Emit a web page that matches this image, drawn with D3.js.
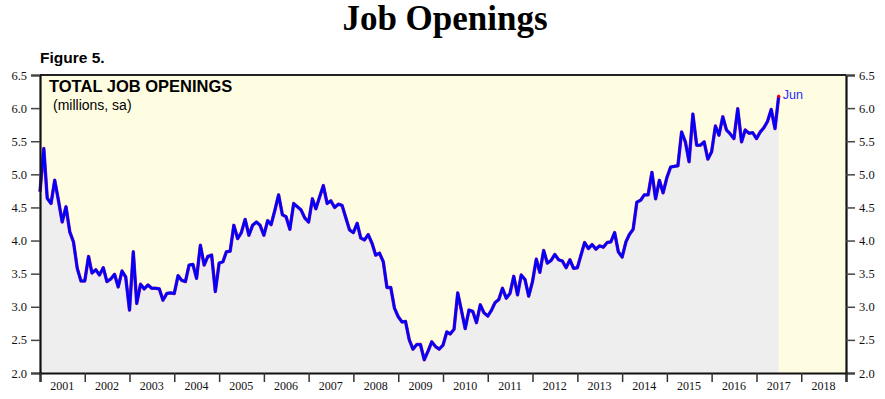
<!DOCTYPE html>
<html>
<head>
<meta charset="utf-8">
<script src="https://cdn.jsdelivr.net/npm/d3@7"></script>
<style>
  body { margin: 0; background: #fff; }
  svg { display: block; }
</style>
</head>
<body>
<script>
// monthly total job openings, millions sa, Dec 2000 .. Jun 2017
const startMonth = "2000-12";
const openings = [
  4.74,
  5.39, 4.64, 4.56, 4.91, 4.60, 4.28, 4.51, 4.13, 3.98, 3.58, 3.39, 3.39,
  3.76, 3.51, 3.56, 3.48, 3.59, 3.38, 3.42, 3.49, 3.30, 3.54, 3.45, 2.95,
  3.83, 3.05, 3.34, 3.27, 3.33, 3.28, 3.28, 3.27, 3.10, 3.20, 3.21, 3.20,
  3.47, 3.40, 3.38, 3.63, 3.64, 3.43, 3.93, 3.63, 3.76, 3.78, 3.23, 3.66,
  3.68, 3.83, 3.84, 4.23, 4.03, 4.12, 4.32, 4.08, 4.23, 4.28, 4.23, 4.08,
  4.30, 4.24, 4.46, 4.69, 4.39, 4.36, 4.17, 4.56, 4.51, 4.46, 4.34, 4.28,
  4.63, 4.48, 4.66, 4.83, 4.56, 4.60, 4.50, 4.55, 4.53, 4.34, 4.16, 4.12,
  4.26, 4.04, 4.01, 4.09, 3.96, 3.78, 3.81, 3.68, 3.29, 3.29, 2.98, 2.85,
  2.77, 2.78, 2.50, 2.36, 2.43, 2.43, 2.20, 2.33, 2.47, 2.40, 2.36, 2.42,
  2.62, 2.59, 2.66, 3.21, 2.94, 2.67, 2.95, 2.93, 2.76, 3.03, 2.91, 2.86,
  2.95, 3.06, 3.11, 3.28, 3.13, 3.20, 3.46, 3.18, 3.48, 3.41, 3.16, 3.38,
  3.72, 3.52, 3.85, 3.66, 3.70, 3.79, 3.71, 3.69, 3.59, 3.71, 3.58, 3.59,
  3.79, 3.97, 3.88, 3.94, 3.87, 3.92, 3.90, 3.97, 3.98, 4.12, 3.83, 3.75,
  3.98, 4.09, 4.17, 4.58, 4.61, 4.69, 4.69, 5.03, 4.63, 4.91, 4.72, 4.95,
  5.11, 5.12, 5.13, 5.64, 5.49, 5.19, 5.91, 5.44, 5.44, 5.49, 5.23, 5.34,
  5.73, 5.59, 5.87, 5.67, 5.61, 5.54, 5.99, 5.49, 5.67, 5.62, 5.63, 5.54,
  5.64, 5.70, 5.80, 5.98, 5.69, 6.18
];
const yTicks = [2.0, 2.5, 3.0, 3.5, 4.0, 4.5, 5.0, 5.5, 6.0, 6.5];
const years = d3.range(2001, 2019);

const width = 885, height = 399;
const plotLeft = 40, plotRight = 846, plotTop = 75, plotBottom = 373;

const svg = d3.select("body").append("svg")
  .attr("width", width)
  .attr("height", height);

// each month is drawn at its end (start of the next month)
const parseMonth = d3.timeParse("%Y-%m");
const first = parseMonth(startMonth);
const data = openings.map((v, i) => ({ date: d3.timeMonth.offset(first, i + 1), value: v }));

const x = d3.scaleTime()
  .domain([new Date(2001, 0, 1), new Date(2019, 0, 1)])
  .range([plotLeft, plotRight]);
const y = d3.scaleLinear()
  .domain([2, 6.5])
  .range([plotBottom, plotTop]);

// plot background
svg.append("rect")
  .attr("x", plotLeft).attr("y", plotTop)
  .attr("width", plotRight - plotLeft).attr("height", plotBottom - plotTop)
  .attr("fill", "#fffde1");

// shaded area under the line
const area = d3.area()
  .x(d => x(d.date))
  .y0(plotBottom)
  .y1(d => y(d.value));
svg.append("path")
  .datum(data)
  .attr("d", area)
  .attr("fill", "#eeeeee");

// line: purple underlay, blue on top
const line = d3.line()
  .x(d => x(d.date))
  .y(d => y(d.value));
svg.append("path")
  .datum(data)
  .attr("d", line)
  .attr("fill", "none")
  .attr("stroke", "#a0208a")
  .attr("stroke-width", 3.4)
  .attr("stroke-linejoin", "round");
svg.append("path")
  .datum(data)
  .attr("d", line)
  .attr("fill", "none")
  .attr("stroke", "#0000ff")
  .attr("stroke-width", 2.6)
  .attr("stroke-linejoin", "round");

const last = data[data.length - 1];
svg.append("circle")
  .attr("cx", x(last.date)).attr("cy", y(last.value))
  .attr("r", 1.6)
  .attr("fill", "#ff0000");
svg.append("text")
  .attr("x", x(last.date) + 4)
  .attr("y", y(last.value) + 3)
  .attr("font-family", "Liberation Sans, Arial, sans-serif")
  .attr("font-size", 12.5)
  .attr("fill", "#2a2aff")
  .text("Jun");

// frame top
svg.append("line")
  .attr("x1", plotLeft).attr("x2", plotRight)
  .attr("y1", plotTop).attr("y2", plotTop)
  .attr("stroke", "#222").attr("stroke-width", 1.8);

// axes
const yFmt = d3.format(".1f");
const yLeft = d3.axisLeft(y).tickValues(yTicks).tickFormat(yFmt).tickSize(9).tickPadding(4);
const yRight = d3.axisRight(y).tickValues(yTicks).tickFormat(yFmt).tickSize(9).tickPadding(4);

const gl = svg.append("g").attr("transform", `translate(${plotLeft},0)`).call(yLeft);
const gr = svg.append("g").attr("transform", `translate(${plotRight},0)`).call(yRight);
[gl, gr].forEach(g => {
  g.select(".domain").attr("stroke", "#111").attr("stroke-width", 2.2);
  g.selectAll(".tick line").attr("stroke", "#444").attr("stroke-width", 1.5);
  g.selectAll("text")
    .attr("font-family", "Liberation Serif, Times New Roman, serif")
    .attr("font-size", 12.5)
    .attr("fill", "#111");
});

const xAxis = d3.axisBottom(x)
  .tickValues(d3.range(2001, 2020).map(yr => new Date(yr, 0, 1)))
  .tickFormat("")
  .tickSize(9);
const gx = svg.append("g").attr("transform", `translate(0,${plotBottom})`).call(xAxis);
gx.select(".domain").attr("stroke", "#111").attr("stroke-width", 2.2);
gx.selectAll(".tick line").attr("stroke", "#333").attr("stroke-width", 1.5);

svg.append("g")
  .selectAll("text")
  .data(years)
  .join("text")
  .attr("x", yr => x(new Date(yr, 6, 1)))
  .attr("y", plotBottom + 17)
  .attr("text-anchor", "middle")
  .attr("font-family", "Liberation Serif, Times New Roman, serif")
  .attr("font-size", 12)
  .attr("fill", "#111")
  .text(yr => yr);

// titles
svg.append("text")
  .attr("x", 445)
  .attr("y", 30)
  .attr("text-anchor", "middle")
  .attr("font-family", "Liberation Serif, Times New Roman, serif")
  .attr("font-weight", "bold")
  .attr("font-size", 35)
  .attr("fill", "#000")
  .text("Job Openings");

svg.append("text")
  .attr("x", 40).attr("y", 63)
  .attr("font-family", "Liberation Sans, Arial, sans-serif")
  .attr("font-weight", "bold")
  .attr("font-size", 15.5)
  .text("Figure 5.");

svg.append("text")
  .attr("x", 49).attr("y", 92)
  .attr("font-family", "Liberation Sans, Arial, sans-serif")
  .attr("font-weight", "bold")
  .attr("font-size", 16.5)
  .text("TOTAL JOB OPENINGS");

svg.append("text")
  .attr("x", 53).attr("y", 110)
  .attr("font-family", "Liberation Sans, Arial, sans-serif")
  .attr("font-size", 14)
  .text("(millions, sa)");
</script>
</body>
</html>
